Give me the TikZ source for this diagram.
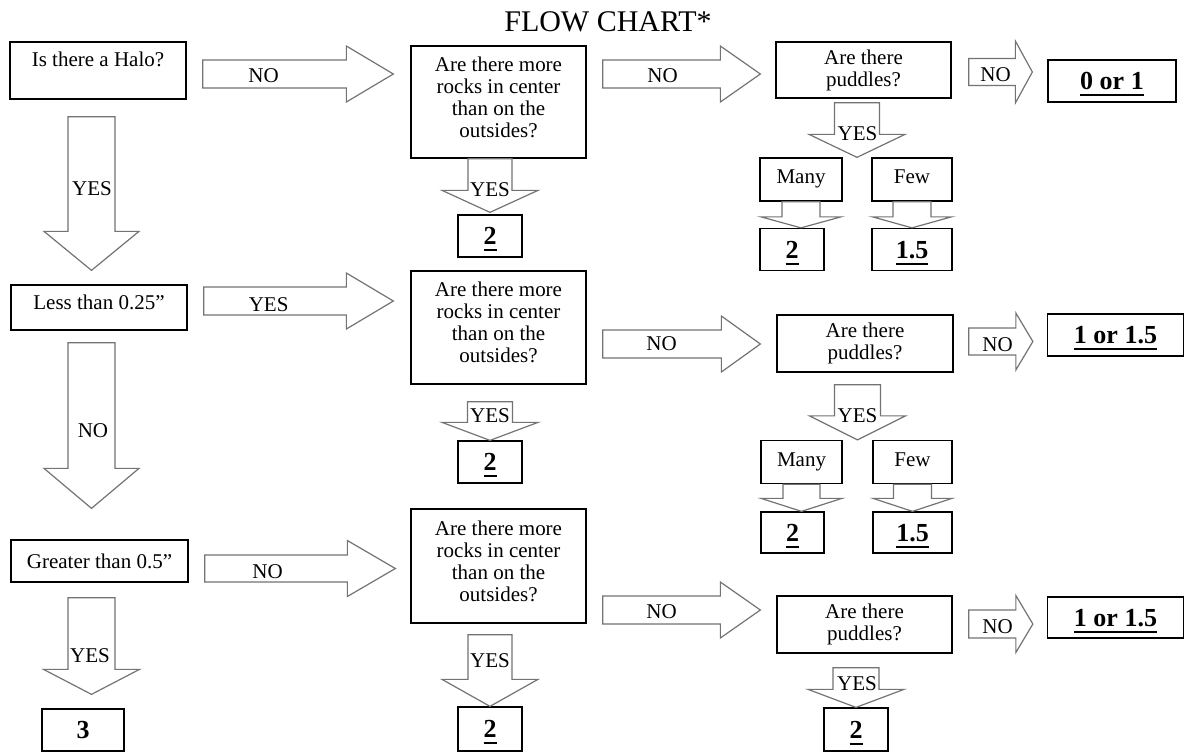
\documentclass[tikz,border=0pt]{standalone}
\usepackage{fontspec}
\setmainfont{Liberation Serif}
\usetikzlibrary{positioning, calc}

% bold score with a heavy underline
\newcommand{\score}[1]{\setbox0\hbox{\textbf{#1}}\rlap{\rule[-3.4pt]{\wd0}{1pt}}\box0}

% block arrows: tail, tip, shaft half width, head half width, head length
\newcommand{\blockright}[5]{%
  \draw[barrow] ($(#1)+(0,-#3)$) -- ($(#2)+(-#5,-#3)$) -- ($(#2)+(-#5,-#4)$) -- (#2)
    -- ($(#2)+(-#5,#4)$) -- ($(#2)+(-#5,#3)$) -- ($(#1)+(0,#3)$) -- cycle;}
\newcommand{\blockdown}[5]{%
  \draw[barrow] ($(#1)+(-#3,0)$) -- ($(#2)+(-#3,-#5)$) -- ($(#2)+(-#4,-#5)$) -- (#2)
    -- ($(#2)+(#4,-#5)$) -- ($(#2)+(#3,-#5)$) -- ($(#1)+(#3,0)$) -- cycle;}

\begin{document}
\begin{tikzpicture}[x=0.5pt, y=-0.5pt,
    block/.style={rectangle, draw, line width=0.65pt, fill=white, inner sep=0pt, align=center, font=\fontsize{10.5}{11}\selectfont},
    question/.style={block, minimum width=87.5pt},
    choice/.style={block, minimum height=21.5pt, text depth=2.5pt},
    result/.style={block, minimum height=21pt, text depth=0pt, font=\fontsize{13}{15}\selectfont},
    barrow/.style={draw=black!55, line width=0.6pt, fill=white, line join=miter},
    lbl/.style={inner sep=0pt, font=\fontsize{10.5}{11}\selectfont}
]
    \useasboundingbox (0,0) rectangle (1185,752);

    % Title
    \node[font=\fontsize{15}{17}\selectfont] (title) at (608,22) {FLOW CHART*};

    % Left column
    \node[block, minimum width=88pt, minimum height=28.5pt, text height=7.2pt, text depth=11.7pt] (halo) at (98,70.5) {Is there a Halo?};
    \node[block, minimum width=88pt, minimum height=22.5pt, text height=7.2pt, text depth=5pt] (less) at (99,307.5) {Less than 0.25”};
    \node[block, minimum width=88.5pt, minimum height=21pt] (greater) at (99.5,561) {Greater than 0.5”};
    \node[result, minimum width=41pt] (three) at (83,730) {\textbf{3}};

    % Rocks column
    \node[question, minimum height=56pt, text depth=5pt] (rocks1) at (498.5,102) {Are there more\\rocks in center\\than on the\\outsides?};
    \node[result, minimum width=32pt] (two1) at (490,236) {\score{2}};
    \node[question, minimum height=56.5pt, text depth=5pt] (rocks2) at (498.5,327.5) {Are there more\\rocks in center\\than on the\\outsides?};
    \node[result, minimum width=32pt] (two2) at (490,462) {\score{2}};
    \node[question, minimum height=57pt, text depth=5pt] (rocks3) at (498.5,566) {Are there more\\rocks in center\\than on the\\outsides?};
    \node[result, minimum width=32pt, minimum height=22pt] (two3) at (490,729) {\score{2}};

    % Puddles column
    \node[question, minimum height=28pt] (pud1) at (863.5,70) {Are there\\puddles?};
    \node[choice, minimum width=41pt] (many1) at (801,179.5) {Many};
    \node[choice, minimum width=40pt] (few1) at (912,179.5) {Few};
    \node[result, minimum width=32pt] (rmany1) at (792,249.5) {\score{2}};
    \node[result, minimum width=40pt] (rfew1) at (912,249.5) {\score{1.5}};
    \node[question, minimum width=88pt, minimum height=28.5pt] (pud2) at (865,343.5) {Are there\\puddles?};
    \node[choice, minimum width=40.5pt] (many2) at (801.5,462) {Many};
    \node[choice, minimum width=39.5pt] (few2) at (912.5,462) {Few};
    \node[result, minimum width=31.5pt, minimum height=20.5pt] (rmany2) at (792.5,532.5) {\score{2}};
    \node[result, minimum width=39.5pt, minimum height=20.5pt] (rfew2) at (912.5,532.5) {\score{1.5}};
    \node[question, minimum height=28.5pt] (pud3) at (864.5,624.5) {Are there\\puddles?};
    \node[result, minimum width=32pt, minimum height=21.5pt] (rpud3) at (856,729.5) {\score{2}};

    % Outcomes
    \node[result, minimum width=64pt] (out1) at (1112,81) {\score{0 or 1}};
    \node[result, minimum width=68pt] (out2) at (1115.5,335) {\score{1 or 1.5}};
    \node[result, minimum width=68pt, minimum height=20.5pt] (out3) at (1115.5,617.5) {\score{1 or 1.5}};

    % Arrow ends
    \coordinate (noA0) at ($(halo.east)+(16,3.5)$);
    \coordinate (noA1) at ($(noA0 -| rocks1.west)+(-17,0)$);
    \coordinate (noB0) at ($(rocks1.east)+(16,-28)$);
    \coordinate (noB1) at ($(noB0 -| pud1.west)+(-15,0)$);
    \coordinate (noC0) at ($(pud1.east)+(17,2)$);
    \coordinate (noC1) at ($(noC0 -| out1.west)+(-15,0)$);
    \coordinate (yesB0) at ($(less.east)+(16,-6.5)$);
    \coordinate (yesB1) at ($(yesB0 -| rocks2.west)+(-17,0)$);
    \coordinate (noE0) at ($(rocks2.east)+(16,16.5)$);
    \coordinate (noE1) at ($(noE0 -| pud2.west)+(-16,0)$);
    \coordinate (noF0) at ($(pud2.east)+(15,-2)$);
    \coordinate (noF1) at ($(noF0 -| out2.west)+(-14,0)$);
    \coordinate (noG0) at ($(greater.east)+(16,7.5)$);
    \coordinate (noG1) at ($(noG0 -| rocks3.west)+(-15,0)$);
    \coordinate (noH0) at ($(rocks3.east)+(16,44)$);
    \coordinate (noH1) at ($(noH0 -| pud3.west)+(-16,0)$);
    \coordinate (noI0) at ($(pud3.east)+(16,-0.5)$);
    \coordinate (noI1) at ($(noI0 -| out3.west)+(-14,0)$);

    \coordinate (yesA0) at ($(halo.south)+(-6.5,17)$);
    \coordinate (yesA1) at ($(yesA0 |- less.north)+(0,-14)$);
    \coordinate (noD0) at ($(less.south)+(-7.5,12)$);
    \coordinate (noD1) at ($(noD0 |- greater.north)+(0,-31)$);
    \coordinate (yesC0) at ($(greater.south)+(-8,15)$);
    \coordinate (yesC1) at ($(yesC0 |- three.north)+(0,-14)$);
    \coordinate (yesD0) at (two1.north |- rocks1.south);
    \coordinate (yesD1) at ($(two1.north)+(0,-2)$);
    \coordinate (yesE0) at ($(two2.north |- rocks2.south)+(0,17)$);
    \coordinate (yesE1) at (two2.north);
    \coordinate (yesF0) at ($(two3.north |- rocks3.south)+(0,11)$);
    \coordinate (yesF1) at (two3.north);
    \coordinate (yesG1) at ($(many1.north east)!0.5!(few1.north west)$);
    \coordinate (yesG0) at ($(yesG1 |- pud1.south)+(0,4)$);
    \coordinate (yesH1) at ($(many2.north east)!0.5!(few2.north west)$);
    \coordinate (yesH0) at ($(yesH1 |- pud2.south)+(0,12)$);
    \coordinate (yesI0) at ($(rpud3.north |- pud3.south)+(0,14)$);
    \coordinate (yesI1) at (rpud3.north);

    % Block arrows
    \blockright{noA0}{noA1}{14}{28}{47}
    \blockright{noB0}{noB1}{14}{28}{40}
    \blockright{noC0}{noC1}{13.5}{31}{17}
    \blockright{yesB0}{yesB1}{14}{28}{47}
    \blockright{noE0}{noE1}{14}{28}{39}
    \blockright{noF0}{noF1}{13.5}{28.5}{17}
    \blockright{noG0}{noG1}{13.5}{28}{48}
    \blockright{noH0}{noH1}{14}{28}{40}
    \blockright{noI0}{noI1}{14}{28.5}{17}

    \blockdown{yesA0}{yesA1}{23.5}{47.5}{39}
    \blockdown{noD0}{noD1}{23.5}{47.5}{40}
    \blockdown{yesC0}{yesC1}{23.5}{48}{25}
    \blockdown{yesD0}{yesD1}{22}{48}{22}
    \blockdown{yesE0}{yesE1}{22.5}{48}{18}
    \blockdown{yesF0}{yesF1}{22}{48}{27}
    \blockdown{yesG0}{yesG1}{22.5}{48}{23}
    \blockdown{yesH0}{yesH1}{23}{48}{24}
    \blockdown{yesI0}{yesI1}{23}{48}{18}

    % Small arrows under Many / Few
    \blockdown{many1.south}{many1.south |- rmany1.north}{19}{40}{11}
    \blockdown{few1.south}{few1.south |- rfew1.north}{19}{39.5}{11}
    \blockdown{many2.south}{many2.south |- rmany2.north}{18.5}{40.5}{13}
    \blockdown{few2.south}{few2.south |- rfew2.north}{19}{39.5}{13}

    % Arrow labels
    \node[lbl] (lNoA) at ($(noA0)+(61,2)$) {NO};
    \node[lbl] (lNoB) at ($(noB0)+(60,2)$) {NO};
    \node[lbl] (lNoC) at ($(noC0)+(27,3)$) {NO};
    \node[lbl] (lYesB) at ($(yesB0)+(65,4)$) {YES};
    \node[lbl] (lNoE) at ($(noE0)+(59,0)$) {NO};
    \node[lbl] (lNoF) at ($(noF0)+(29,3.5)$) {NO};
    \node[lbl] (lNoG) at ($(noG0)+(63,3.5)$) {NO};
    \node[lbl] (lNoH) at ($(noH0)+(59,2)$) {NO};
    \node[lbl] (lNoI) at ($(noI0)+(29,3)$) {NO};
    \node[lbl] (lYesA) at ($(yesA0)+(0.5,72)$) {YES};
    \node[lbl] (lNoD) at ($(noD0)+(1.5,88)$) {NO};
    \node[lbl] (lYesC) at ($(yesC0)+(-1.5,58)$) {YES};
    \node[lbl] (lYesD) at ($(yesD0)+(0,31)$) {YES};
    \node[lbl] (lYesE) at ($(yesE0)+(0,14)$) {YES};
    \node[lbl] (lYesF) at ($(yesF0)+(0,26)$) {YES};
    \node[lbl] (lYesG) at ($(yesG0)+(0.5,31)$) {YES};
    \node[lbl] (lYesH) at ($(yesH0)+(0,31)$) {YES};
    \node[lbl] (lYesI) at ($(yesI0)+(1,16)$) {YES};

\end{tikzpicture}
\end{document}
